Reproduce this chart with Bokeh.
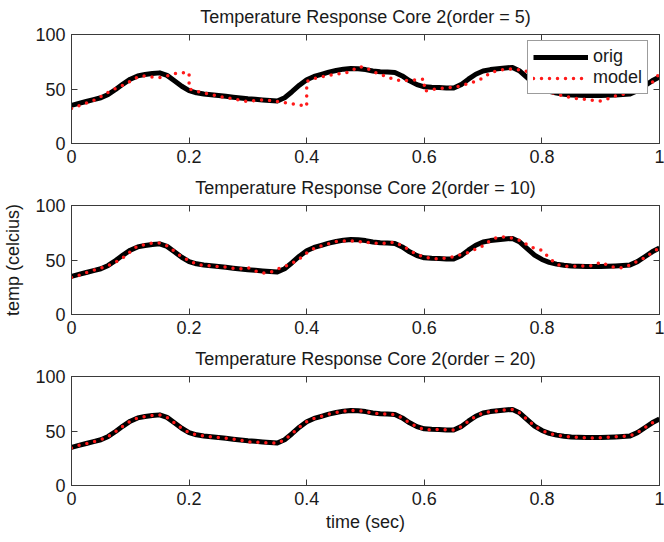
from bokeh.plotting import figure
from bokeh.layouts import column
from bokeh.models import (FixedTicker, LinearAxis, Legend, LegendItem,
                          CustomJSTickFormatter, CustomLabelingPolicy, Range1d)
from bokeh.embed import file_html
from bokeh.resources import INLINE

# ---------------- data ----------------
time = [0.0, 0.0125, 0.025, 0.0375, 0.05, 0.0625, 0.075, 0.0875,
        0.1, 0.1125, 0.125, 0.1375, 0.15, 0.1625, 0.175, 0.1875,
        0.2, 0.2125, 0.225, 0.2375, 0.25, 0.2625, 0.275, 0.2875,
        0.3, 0.3125, 0.325, 0.3375, 0.35, 0.3625, 0.375, 0.3875,
        0.4, 0.4125, 0.425, 0.4375, 0.45, 0.4625, 0.475, 0.4875,
        0.5, 0.5125, 0.525, 0.5375, 0.55, 0.5625, 0.575, 0.5875,
        0.6, 0.6125, 0.625, 0.6375, 0.65, 0.6625, 0.675, 0.6875,
        0.7, 0.7125, 0.725, 0.7375, 0.75, 0.7625, 0.775, 0.7875,
        0.8, 0.8125, 0.825, 0.8375, 0.85, 0.8625, 0.875, 0.8875,
        0.9, 0.9125, 0.925, 0.9375, 0.95, 0.9625, 0.975, 0.9875, 1.0]

orig = [35, 36.8, 38.5, 40.2, 42, 45, 49.5, 54.5,
        59, 62, 63.3, 64.2, 64.8, 62.5, 57.5, 52.5,
        48.5, 46.5, 45.5, 44.7, 44, 43.3, 42.5, 41.7,
        41, 40.5, 40, 39.5, 39, 42, 47.5, 53.5,
        58.5, 61.5, 63.5, 65.5, 67, 68.2, 68.8, 68.6,
        67.8, 66.5, 65.8, 65.6, 65.2, 62, 57.5, 54,
        52, 51.5, 51.3, 51, 51, 54, 59, 63.5,
        66.5, 67.8, 68.5, 69.3, 69.8, 66.5, 60.5, 54.5,
        50.5, 47.8, 46.2, 45.2, 44.5, 44.2, 44, 44,
        44, 44.3, 44.6, 45, 45.5, 48.5, 53, 57.5, 61]

# order = 5 model: fitted per 0.2 s segment (jumps at segment boundaries)
time_o5 = [0.0, 0.0125, 0.025, 0.0375, 0.05, 0.0625, 0.075, 0.0875,
           0.1, 0.1125, 0.125, 0.1375, 0.15, 0.1625, 0.175, 0.1875, 0.2,
           0.2, 0.2125, 0.225, 0.2375, 0.25, 0.2625, 0.275, 0.2875,
           0.3, 0.3125, 0.325, 0.3375, 0.35, 0.3625, 0.375, 0.3875, 0.4,
           0.4, 0.4125, 0.425, 0.4375, 0.45, 0.4625, 0.475, 0.4875,
           0.5, 0.5125, 0.525, 0.5375, 0.55, 0.5625, 0.575, 0.5875, 0.6,
           0.6, 0.6125, 0.625, 0.6375, 0.65, 0.6625, 0.675, 0.6875,
           0.7, 0.7125, 0.725, 0.7375, 0.75, 0.7625, 0.775, 0.7875, 0.8,
           0.8, 0.8125, 0.825, 0.8375, 0.85, 0.8625, 0.875, 0.8875,
           0.9, 0.9125, 0.925, 0.9375, 0.95, 0.9625, 0.975, 0.9875, 1.0]
model_o5 = [32, 34.5, 37, 39.5, 43, 47, 50.5, 53.5,
            57, 61, 62, 61, 60.5, 62, 64, 65, 65,
            50, 48, 46.5, 45, 43.5, 42, 41, 39.5,
            38.5, 39.5, 40, 39.5, 38.5, 37.5, 36.5, 35.5, 34,
            57, 59.5, 61, 62.5, 63.5, 64.5, 66, 70.5,
            70, 66, 63.5, 61, 58.5, 57.5, 58, 58.5, 59,
            48, 49.5, 50.5, 51, 51.5, 53, 55, 57,
            60, 65, 67, 68, 68.5, 67.5, 66, 64, 62,
            52, 48, 45, 43.5, 42, 41, 40.5, 39.5,
            39, 41, 43.5, 45, 47, 49.5, 52.5, 56, 64]

model_o10 = [34, 36, 38.5, 40.5, 42.5, 45, 48, 52,
             57.5, 63, 64, 65.5, 65.5, 63, 58, 53,
             49.5, 46, 45, 44.5, 44, 43.5, 42.5, 42,
             43, 40, 38, 38.5, 41.5, 44, 47, 51,
             56.5, 60.5, 63, 65, 67, 67.5, 67.5, 67,
             66.5, 65.5, 65, 65.5, 66.5, 63, 59, 55,
             52.5, 51.5, 51, 52, 53, 55, 57, 60,
             63, 68, 71, 71, 70, 68, 64, 60.5,
             59, 52, 46, 44.5, 44, 44.5, 44.5, 45,
             48, 45, 43, 43, 45.5, 49, 52, 57, 61]

model_o20 = [34.5, 36.8, 38.5, 40.2, 42, 45, 49.5, 54.5,
             59, 62, 63.3, 64.2, 64.8, 62.5, 57.5, 52.5,
             48.5, 46.5, 45.5, 44.7, 44, 43.3, 42.5, 41.7,
             40, 39.8, 39.3, 39, 38.8, 42, 47.5, 53.5,
             58.5, 61.5, 63.5, 65.5, 67, 68.2, 68.8, 68.6,
             67.8, 66.5, 65.8, 65.6, 64.8, 62, 57.5, 54,
             51.3, 51.2, 51.3, 51, 51, 54, 59, 63.5,
             66.5, 67.8, 68.5, 69.3, 69.8, 66.5, 60.5, 54.5,
             50.5, 47.8, 46.2, 45.2, 44.5, 44.2, 43.8, 43.6,
             43.7, 44.3, 44.6, 45, 45.5, 48.5, 53, 57.5, 61]

titles = ["Temperature Response Core 2(order = 5)",
          "Temperature Response Core 2(order = 10)",
          "Temperature Response Core 2(order = 20)"]
x_ticks = [0, 0.2, 0.4, 0.6, 0.8, 1.0]
y_ticks = [0, 50, 100]

FONT = "Liberation Sans"
AX = "#3a3a3a"
TXT = "#1a1a1a"


def style_axis(ax, labels=True):
    ax.major_tick_in = 6
    ax.major_tick_out = 0
    ax.minor_tick_in = 0
    ax.minor_tick_out = 0
    ax.axis_line_color = AX
    ax.major_tick_line_color = AX
    ax.axis_line_width = 1
    ax.major_label_text_font = FONT
    ax.major_label_text_color = TXT
    ax.axis_label_text_font = FONT
    ax.axis_label_text_font_style = "normal"
    ax.axis_label_text_font_size = "18px"
    ax.axis_label_text_color = TXT
    if labels:
        ax.major_label_text_font_size = "18px"
        ax.major_label_standoff = 6
    else:
        ax.major_label_text_font_size = "1px"
        ax.major_label_standoff = 0
        ax.major_label_policy = CustomLabelingPolicy(code="return [];")


def make_panel(idx, mt, mv, top, bottom, xlabel=None, ylabel=None, legend=False):
    p = figure(frame_width=588, frame_height=109,
               x_range=Range1d(0, 1), y_range=Range1d(0, 100),
               output_backend="svg", toolbar_location=None,
               min_border_left=71, min_border_right=5,
               min_border_top=top, min_border_bottom=bottom,
               background_fill_color="white", border_fill_color="white")
    p.title.text = titles[idx]
    p.title.text_font = FONT
    p.title.text_font_size = "18px"
    p.title.text_font_style = "normal"
    p.title.text_color = TXT
    p.title.align = "center"
    p.title.standoff = 7
    p.xgrid.visible = False
    p.ygrid.visible = False
    p.outline_line_color = AX

    fmt = CustomJSTickFormatter(code="return String(Math.round(tick*10)/10);")
    p.xaxis.ticker = FixedTicker(ticks=x_ticks)
    p.xaxis.formatter = fmt
    p.yaxis.ticker = FixedTicker(ticks=y_ticks)
    style_axis(p.xaxis[0])
    style_axis(p.yaxis[0])
    if xlabel:
        p.xaxis.axis_label = xlabel
        p.xaxis.axis_label_standoff = 4
    if ylabel:
        p.yaxis.axis_label = ylabel
        p.yaxis.axis_label_standoff = 9

    top_ax = LinearAxis(ticker=FixedTicker(ticks=x_ticks))
    right_ax = LinearAxis(ticker=FixedTicker(ticks=y_ticks))
    style_axis(top_ax, labels=False)
    style_axis(right_ax, labels=False)
    p.add_layout(top_ax, "above")
    p.add_layout(right_ax, "right")

    r1 = p.line(time, orig, line_color="black", line_width=5, line_join="round")
    r2 = p.line(mt, mv, line_color="#ff1a1a", line_width=3.5,
                line_dash="0 8", line_cap="round")

    if legend:
        lg = Legend(items=[LegendItem(label="orig", renderers=[r1]),
                           LegendItem(label="model", renderers=[r2])],
                    location=(456, 49))
        lg.label_text_font = FONT
        lg.label_text_font_size = "18px"
        lg.label_text_color = TXT
        lg.glyph_width = 55
        lg.glyph_height = 20
        lg.label_height = 20
        lg.label_standoff = 5
        lg.padding = 5
        lg.spacing = 0
        lg.margin = 0
        lg.border_line_color = AX
        lg.border_line_width = 1
        lg.background_fill_color = "white"
        lg.background_fill_alpha = 1
        p.add_layout(lg, "center")
    return p


p1 = make_panel(0, time_o5, model_o5, 34, 28, legend=True)
p2 = make_panel(1, time, model_o10, 34, 28, ylabel="temp (celcius)")
p3 = make_panel(2, time, model_o20, 34, 56, xlabel="time (sec)")

layout = column(p1, p2, p3, spacing=0)
open("out.html", "w").write(file_html(layout, INLINE))
